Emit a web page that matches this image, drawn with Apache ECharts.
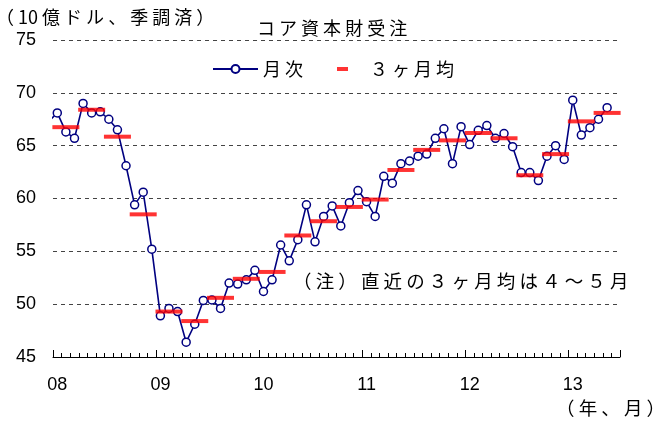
<!DOCTYPE html>
<html>
<head>
<meta charset="utf-8">
<script src="https://cdn.jsdelivr.net/npm/echarts@6/dist/echarts.min.js"></script>
<style>
  html, body { margin: 0; padding: 0; background: #fff; }
  #main { width: 661px; height: 421px; }
</style>
</head>
<body>
<div id="main"></div>
<script>
// 年ラベル（08〜13）
const yearLabels = ['08', '09', '10', '11', '12', '13']

// 2007年12月（左端で切れている点）
const prevMonth = 67.3

// 月次：2008年1月〜2013年5月
const monthly = [
  68.1, 66.3, 65.7, 69.0, 68.1, 68.2, 67.5, 66.5, 63.1, 59.4, 60.6, 55.2,
  48.9, 49.6, 49.3, 46.4, 48.1, 50.35, 50.4, 49.6, 52.0, 51.9, 52.3, 53.2,
  51.2, 52.3, 55.6, 54.1, 56.1, 59.4, 55.9, 58.3, 59.3, 57.4, 59.6, 60.75,
  59.7, 58.3, 62.1, 61.45, 63.3, 63.55, 64.0, 64.2, 65.7, 66.6, 63.3, 66.8,
  65.1, 66.45, 66.9, 65.7, 66.15, 64.9, 62.45, 62.45, 61.7, 64.0, 65.0, 63.7,
  69.3, 66.0, 66.7, 67.5, 68.6
]

// ３ヶ月均：2008年1-3月〜2013年4-6月（最後は4〜5月）
const quarterly = [
  66.75, 68.4, 65.85, 58.5,
  49.3, 48.4, 50.6, 52.4,
  53.05, 56.5, 57.85, 59.2,
  59.9, 62.7, 64.6, 65.5,
  66.2, 65.7, 62.2, 64.2,
  67.3, 68.1
]

// 軸は2008年1月〜2013年6月の66ヶ月
const categories = []
for (let y = 2008; y <= 2013; y++) {
  for (let m = 1; m <= 12; m++) {
    if (y === 2013 && m > 6) break
    categories.push(y + '-' + m)
  }
}

const latin = 'Liberation Sans, Arial, sans-serif'
const cjk = 'Noto Sans CJK JP, sans-serif'
const navy = '#000080'

const monthlyData = [{ value: [-1, prevMonth], symbol: 'none' }]
monthly.forEach((v, i) => monthlyData.push([i, v]))
const quarterData = quarterly.map((v, q) => [q * 3 + 1, v])

let myChart = echarts.init(document.getElementById('main'))
let option = {
  animation: false,
  backgroundColor: '#fff',
  grid: { left: 53, right: 41, top: 40, bottom: 64 },
  legend: [
    {
      data: ['月次'],
      left: 207,
      top: 55,
      itemWidth: 45,
      itemHeight: 10,
      textStyle: { fontFamily: cjk, fontSize: 18, color: '#000' },
      formatter: () => '月 次'
    },
    {
      data: [{ name: '３ヶ月均', icon: 'rect' }],
      left: 332,
      top: 55,
      itemWidth: 11,
      itemHeight: 4,
      textStyle: { fontFamily: cjk, fontSize: 18, color: '#000', padding: [0, 0, 0, 17] },
      formatter: () => '３ ヶ 月 均'
    }
  ],
  xAxis: [
    {
      type: 'category',
      position: 'bottom',
      data: categories,
      boundaryGap: true,
      axisLine: { show: true, lineStyle: { color: '#000', width: 1 } },
      axisTick: { show: true, inside: true, length: 4, interval: 0, lineStyle: { color: '#000', width: 1 } },
      axisLabel: {
        interval: 11,
        margin: 19,
        fontFamily: latin,
        fontSize: 18,
        color: '#000',
        formatter: (val, idx) => yearLabels[Math.floor(idx / 12)]
      },
      splitLine: { show: false }
    },
    {
      // 年の区切りの長い目盛り
      type: 'category',
      position: 'bottom',
      data: categories,
      boundaryGap: true,
      axisLine: { show: false },
      axisTick: { show: true, inside: true, length: 7, interval: 11, lineStyle: { color: '#000', width: 1 } },
      axisLabel: { show: false },
      splitLine: { show: false }
    },
    {
      type: 'value',
      min: -0.5,
      max: 65.5,
      show: false
    }
  ],
  yAxis: {
    type: 'value',
    min: 45,
    max: 75,
    interval: 5,
    axisLine: { show: false },
    axisTick: { show: false },
    axisLabel: { margin: 17, fontFamily: latin, fontSize: 18, color: '#000' },
    splitLine: { lineStyle: { color: '#444', type: [4, 4], width: 1 } }
  },
  series: [
    {
      name: '月次',
      type: 'line',
      xAxisIndex: 2,
      data: monthlyData,
      clip: false,
      symbol: 'circle',
      symbolSize: 8,
      lineStyle: { color: navy, width: 1.6 },
      itemStyle: { color: '#fff', borderColor: navy, borderWidth: 1.5 },
      z: 2
    },
    {
      name: '３ヶ月均',
      type: 'scatter',
      xAxisIndex: 2,
      data: quarterData,
      symbol: 'rect',
      symbolSize: [27, 4],
      itemStyle: { color: '#ff0000' },
      z: 3
    }
  ],
  graphic: [
    {
      type: 'text',
      left: -4,
      top: 8,
      style: { text: '（ 10 億 ド ル 、 季 調 済 ）', font: '18px ' + cjk, fill: '#000' }
    },
    {
      type: 'text',
      left: 257,
      top: 19,
      style: { text: 'コ ア 資 本 財 受 注', font: '18px ' + cjk, fill: '#000' }
    },
    {
      type: 'text',
      left: 293,
      top: 272,
      style: { text: '（ 注 ） 直 近 の ３ ヶ 月 均 は ４ ～ ５ 月', font: '18.5px ' + cjk, fill: '#000' }
    },
    {
      type: 'text',
      left: 556,
      top: 399,
      style: { text: '（ 年 、 月 ）', font: '18.5px ' + cjk, fill: '#000' }
    }
  ]
}
myChart.setOption(option)
window.addEventListener('resize', function () {
  myChart.resize()
})
</script>
</body>
</html>
